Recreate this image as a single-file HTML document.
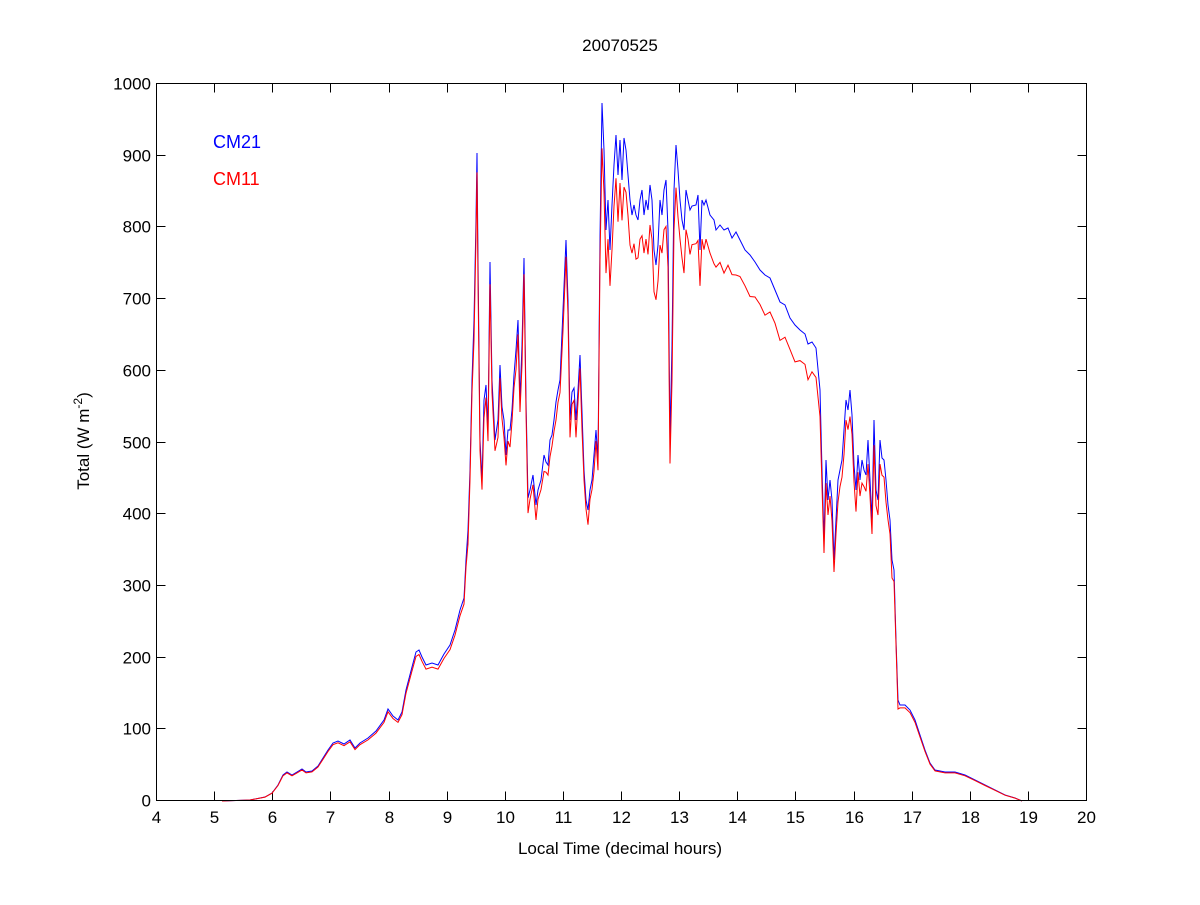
<!DOCTYPE html>
<html><head><meta charset="utf-8"><style>
body{margin:0;background:#fff;}
svg text{font-family:"Liberation Sans",Arial,sans-serif;}
</style></head><body>
<svg id="s" width="1200" height="900" xmlns="http://www.w3.org/2000/svg">
<rect width="1200" height="900" fill="#fff"/>
<g id="ticks" stroke="#000" stroke-width="1"></g>
<g id="labels" font-size="17" fill="#000"></g>
<polyline id="b" fill="none" stroke="#0000ff" stroke-width="1"/>
<polyline id="r" fill="none" stroke="#ff0000" stroke-width="1"/>
<rect x="156.5" y="83.5" width="930" height="717" fill="none" stroke="#000" stroke-width="1"/>
<text x="620" y="51" font-size="17" text-anchor="middle">20070525</text>
<text x="620" y="854" font-size="17" text-anchor="middle">Local Time (decimal hours)</text>
<text transform="translate(89,441) rotate(-90)" font-size="17" text-anchor="middle">Total (W m<tspan dy="-7" font-size="12">-2</tspan><tspan dy="7">)</tspan></text>
<text x="213" y="148" font-size="18" fill="#0000ff">CM21</text>
<text x="213" y="185" font-size="18" fill="#ff0000">CM11</text>
</svg>
<script>
var L=156.5,R=1086.5,T=83.5,B=800.5,ns="http://www.w3.org/2000/svg";
var tk=document.getElementById('ticks'),lb=document.getElementById('labels');
function ln(x1,y1,x2,y2){var e=document.createElementNS(ns,'line');e.setAttribute('x1',x1);e.setAttribute('y1',y1);e.setAttribute('x2',x2);e.setAttribute('y2',y2);tk.appendChild(e);}
function tx(x,y,s,a){var e=document.createElementNS(ns,'text');e.setAttribute('x',x);e.setAttribute('y',y);e.setAttribute('text-anchor',a);e.textContent=s;lb.appendChild(e);}
for(var h=4;h<=20;h++){var x=L+(h-4)*(R-L)/16;x=Math.round(x-0.5)+0.5;ln(x,B,x,B-9);ln(x,T,x,T+9);tx(x,823,h,'middle');}
for(var v=0;v<=1000;v+=100){var y=B-v*(B-T)/1000;y=Math.round(y-0.5)+0.5;ln(L,y,L+9,y);ln(R,y,R-9,y);tx(151,y+6,v,'end');}
var p=[222,801,250,800,265,797,272,793,278,785,283,775,287,772,292,775,297,772,302,769,306,772,312,771,318,766,323,758,328,750,333,743,338,741,344,744,350,740,355,748,360,743,368,738,376,731,384,720,388,709,393,716,398,720,402,712,406,690,412,667,416,652,419,650,422,657,426,665,432,663,438,665,444,654,450,645,455,630,460,610,464,598,466,560,468,530,470,470,472,380,474,320,476,220,477,153,478,260,480,440,482,480,484,400,486,385,488,430,490,262,492,380,495,440,498,420,500,365,502,407,504,420,506,455,508,430,510,430,512,410,514,375,516,350,518,320,520,400,522,345,524,258,526,400,528,498,530,490,533,475,536,505,538,490,541,480,544,455,546,462,548,465,550,440,552,435,554,420,556,402,558,390,560,380,563,310,566,240,568,300,570,420,572,392,574,388,576,420,578,390,580,355,582,412,584,470,586,500,588,510,590,490,592,480,594,455,596,430,598,460,600,238,602,103,604,150,606,230,608,200,610,250,612,205,614,165,616,135,618,175,620,140,622,180,624,138,626,150,628,175,630,200,632,215,634,205,636,215,638,220,640,200,642,190,644,215,646,200,648,210,650,185,652,200,654,250,656,265,658,245,660,200,662,215,664,190,666,180,668,230,670,440,672,345,674,190,676,145,678,170,680,200,682,220,684,230,686,190,688,200,690,210,692,206,696,205,698,195,700,250,702,200,704,205,706,200,710,215,714,220,716,230,720,225,724,230,728,228,732,238,736,232,740,240,745,250,750,255,755,262,760,270,765,275,770,278,775,290,780,302,785,305,790,318,795,325,800,330,805,334,808,344,812,342,816,348,820,390,822,470,824,540,826,460,828,500,830,480,832,500,834,560,836,520,838,480,840,470,842,460,844,430,846,400,848,410,850,390,852,415,854,465,856,490,858,455,860,480,862,460,864,470,866,475,868,440,870,480,872,520,874,420,876,490,878,500,880,440,882,458,884,460,886,480,888,505,890,520,892,560,894,570,896,640,898,700,900,705,905,705,910,710,915,720,920,735,925,750,930,763,935,770,945,772,955,772,965,775,975,780,985,785,995,790,1005,795,1015,798,1022,801];
var bs=[],rs=[];
for(var i=0;i<p.length;i+=2){var x=p[i],y=p[i+1];bs.push(x+','+y);
var f=0.97;if(x>600&&x<820)f=0.935;if(x>=820&&x<895)f=0.95;
var ry=801-(801-y)*f+((i/2)%3==0&&x>460&&x<900?6:0);if(ry>801)ry=801;rs.push(x+','+ry.toFixed(1));}
document.getElementById('b').setAttribute('points',bs.join(' '));
document.getElementById('r').setAttribute('points',rs.join(' '));
</script>
</body></html>
